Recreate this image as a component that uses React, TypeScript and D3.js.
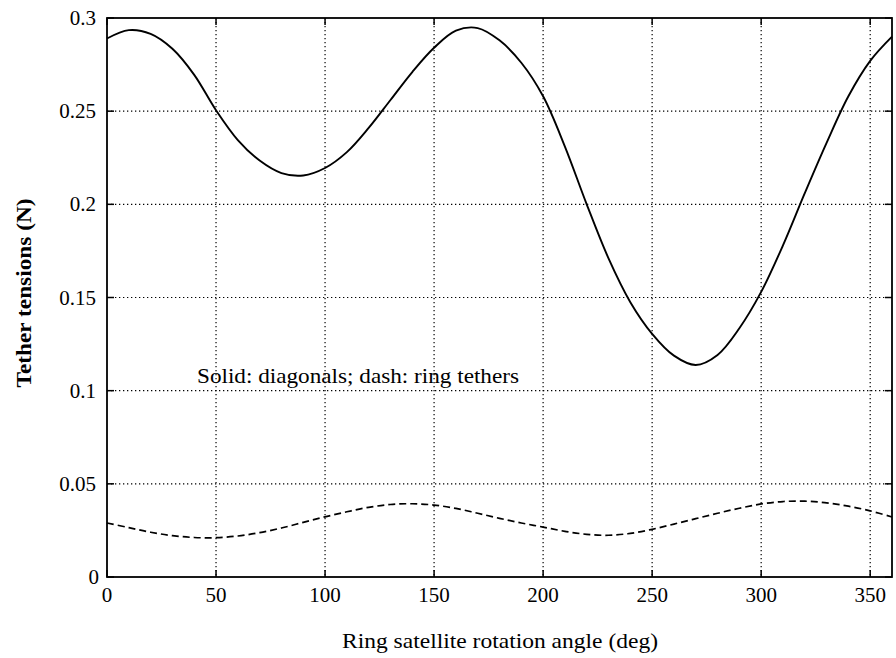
import React from "react";
import * as d3 from "d3";

const angles: number[] = [0, 10, 20, 30, 40, 50, 60, 70, 80, 90, 100, 110, 120, 130, 140, 150, 160, 170, 180, 190, 200, 210, 220, 230, 240, 250, 260, 270, 280, 290, 300, 310, 320, 330, 340, 350, 360];

const diagonals: number[] = [0.289, 0.2935, 0.2915, 0.2835, 0.2695, 0.2505, 0.2345, 0.2235, 0.2168, 0.2155, 0.2195, 0.228, 0.241, 0.256, 0.271, 0.284, 0.2932, 0.2946, 0.288, 0.276, 0.258, 0.231, 0.2, 0.171, 0.1475, 0.1305, 0.1188, 0.1138, 0.1192, 0.1335, 0.153, 0.178, 0.206, 0.233, 0.258, 0.277, 0.290];

const ringTethers: number[] = [0.029, 0.0265, 0.024, 0.0222, 0.0212, 0.0211, 0.022, 0.0238, 0.0263, 0.0293, 0.0323, 0.035, 0.0374, 0.0389, 0.0393, 0.0386, 0.0368, 0.0342, 0.0315, 0.029, 0.0268, 0.0245, 0.0229, 0.0224, 0.0234, 0.0256, 0.0284, 0.0313, 0.0342, 0.0369, 0.0392, 0.0405, 0.0407, 0.0398, 0.038, 0.0355, 0.0322];

const xTicks: number[] = [0, 50, 100, 150, 200, 250, 300, 350];
const yTicks: number[] = [0, 0.05, 0.1, 0.15, 0.2, 0.25, 0.3];
const yTickLabels: string[] = ["0", "0.05", "0.1", "0.15", "0.2", "0.25", "0.3"];

const xLabel = "Ring satellite rotation angle (deg)";
const yLabel = "Tether tensions (N)";
const note = "Solid: diagonals; dash: ring tethers";

const FONT = '"Liberation Serif", "Times New Roman", Tinos, serif';

export default function App() {
  const W = 896;
  const H = 658;
  const left = 107, right = 892, top = 18, bottom = 577;
  const x = d3.scaleLinear().domain([0, 360]).range([left, right]);
  const y = d3.scaleLinear().domain([0, 0.3]).range([bottom, top]);

  const line = d3
    .line<number>()
    .x((_, i) => x(angles[i]))
    .y((d) => y(d))
    .curve(d3.curveCatmullRom.alpha(0.5));

  const tickLen = 7;
  const ts = { fontFamily: FONT };

  return (
    <svg
      width={W}
      height={H}
      style={{ position: "absolute", left: 0, top: 0, background: "#fff", fontFamily: FONT }}
    >
      <rect x={0} y={0} width={W} height={H} fill="#fff" />
      {xTicks.slice(1).map((t) => (
        <line key={"gx" + t} x1={x(t)} x2={x(t)} y1={top} y2={bottom} stroke="#000" strokeWidth={1.2} strokeDasharray="1.3,2.7" />
      ))}
      {yTicks.slice(1, -1).map((t) => (
        <line key={"gy" + t} x1={left} x2={right} y1={y(t)} y2={y(t)} stroke="#000" strokeWidth={1.2} strokeDasharray="1.3,2.7" />
      ))}
      {xTicks.map((t) => (
        <g key={"tx" + t}>
          <line x1={x(t)} x2={x(t)} y1={bottom} y2={bottom - tickLen} stroke="#000" strokeWidth={1.5} />
          <line x1={x(t)} x2={x(t)} y1={top} y2={top + tickLen} stroke="#000" strokeWidth={1.5} />
        </g>
      ))}
      {yTicks.map((t) => (
        <g key={"ty" + t}>
          <line x1={left} x2={left + tickLen} y1={y(t)} y2={y(t)} stroke="#000" strokeWidth={1.5} />
          <line x1={right} x2={right - tickLen} y1={y(t)} y2={y(t)} stroke="#000" strokeWidth={1.5} />
        </g>
      ))}
      <rect x={left} y={top} width={right - left} height={bottom - top} fill="none" stroke="#000" strokeWidth={1.8} />
      <path d={line(diagonals) || ""} fill="none" stroke="#000" strokeWidth={1.9} />
      <path d={line(ringTethers) || ""} fill="none" stroke="#000" strokeWidth={1.7} strokeDasharray="7,4" />
      {xTicks.map((t) => (
        <text key={"lx" + t} x={x(t)} y={602} textAnchor="middle" fontSize={21} fill="#000" style={ts}>
          {String(t)}
        </text>
      ))}
      {yTicks.map((t, i) => (
        <text key={"ly" + t} x={i === 0 ? 99 : 96} y={y(t) + 7} textAnchor="end" fontSize={21} fill="#000" style={ts}>
          {yTickLabels[i]}
        </text>
      ))}
      <text x={500} y={648} textAnchor="middle" fontSize={21} fill="#000" style={ts} textLength={316} lengthAdjust="spacingAndGlyphs">
        {xLabel}
      </text>
      <text
        transform="translate(31,293) rotate(-90)"
        textAnchor="middle"
        fontSize={21}
        fontWeight="bold"
        fill="#000"
        style={ts}
        textLength={189}
        lengthAdjust="spacingAndGlyphs"
      >
        {yLabel}
      </text>
      <text x={197} y={383} fontSize={21} fill="#000" style={ts} textLength={322} lengthAdjust="spacingAndGlyphs">
        {note}
      </text>
    </svg>
  );
}
